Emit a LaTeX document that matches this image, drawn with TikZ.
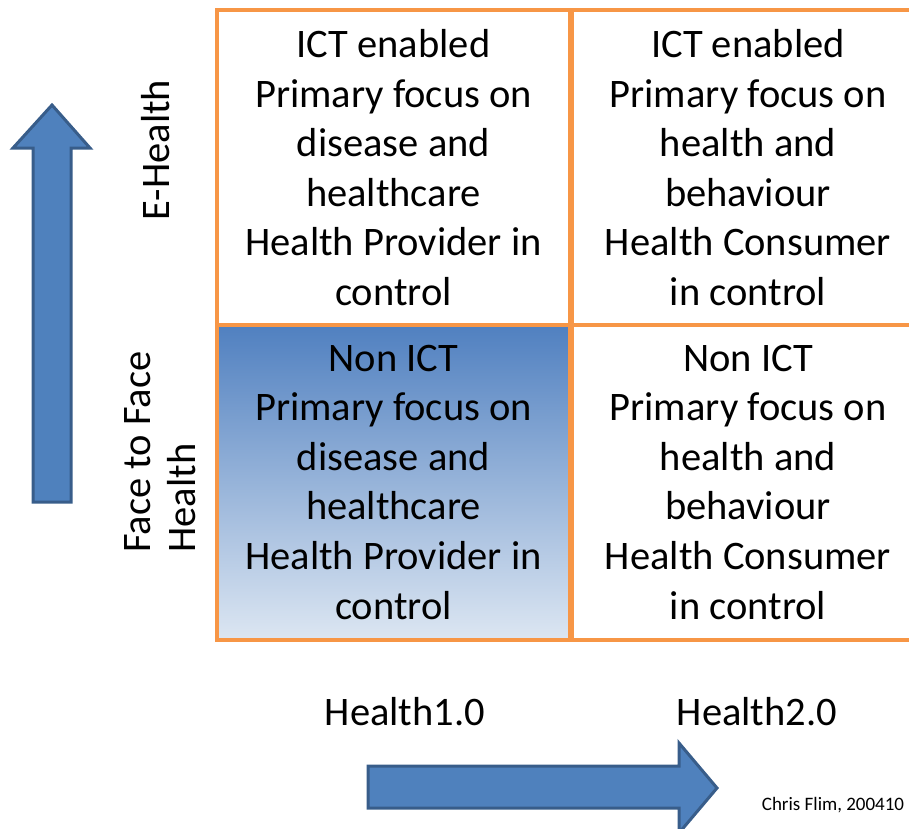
\documentclass[tikz,border=0pt]{standalone}
\usepackage{fontspec}
\setmainfont{Carlito}
\definecolor{gridorange}{HTML}{F79646}
\definecolor{arrowfill}{HTML}{4F81BD}
\definecolor{arrowedge}{HTML}{385D8A}
\definecolor{shadetop}{HTML}{5080C0}
\definecolor{shadebot}{HTML}{DCE6F2}
\tikzset{
  cell/.style={draw=gridorange, line width=4pt, minimum width=353pt, minimum height=315pt,
    inner sep=0pt, align=center, font=\fontsize{40.5}{49.6}\selectfont},
  axislabel/.style={inner sep=0pt, font=\fontsize{40.5}{45}\selectfont},
  bigarrow/.style={fill=arrowfill, draw=arrowedge, line width=3pt, line join=miter},
}
\begin{document}
\begin{tikzpicture}[x=1pt,y=-1pt]
\useasboundingbox (0,0) rectangle (909,828);
\clip (0,0) rectangle (909,828);
% shaded cell background
\shade[top color=shadetop, bottom color=shadebot] (217,325) rectangle (570,639);
% cells
\node[cell] (tl) at (393.5,167.5) {ICT enabled\\Primary focus on\\disease and\\healthcare\\Health Provider in\\control};
\node[cell] (tr) at (748,167.5) {ICT enabled\\Primary focus on\\health and\\behaviour\\Health Consumer\\in control};
\node[cell] (bl) at (393.5,482) {Non ICT\\Primary focus on\\disease and\\healthcare\\Health Provider in\\control};
\node[cell] (br) at (748,482) {Non ICT\\Primary focus on\\health and\\behaviour\\Health Consumer\\in control};
% axis labels
\node[axislabel, rotate=90] (eh) at (156,150) {E-Health};
\node[axislabel, rotate=90, align=left] (ff) at (160.5,452) {Face to Face\\Health};
\node[axislabel] (h1) at (405,712) {Health1.0};
\node[axislabel] (h2) at (757,712) {Health2.0};
\node[inner sep=0pt, font=\fontsize{19}{22}\selectfont] (cf) at (833,805) {Chris Flim, 200410};
% arrows
\draw[bigarrow] (33,502) -- (33,148) -- (13,148) -- (52,105) -- (90,148) -- (71,148) -- (71,502) -- cycle;
\draw[bigarrow] (368,766) -- (679,766) -- (679,743) -- (717,788) -- (679,833) -- (679,808) -- (368,808) -- cycle;
\end{tikzpicture}
\end{document}
